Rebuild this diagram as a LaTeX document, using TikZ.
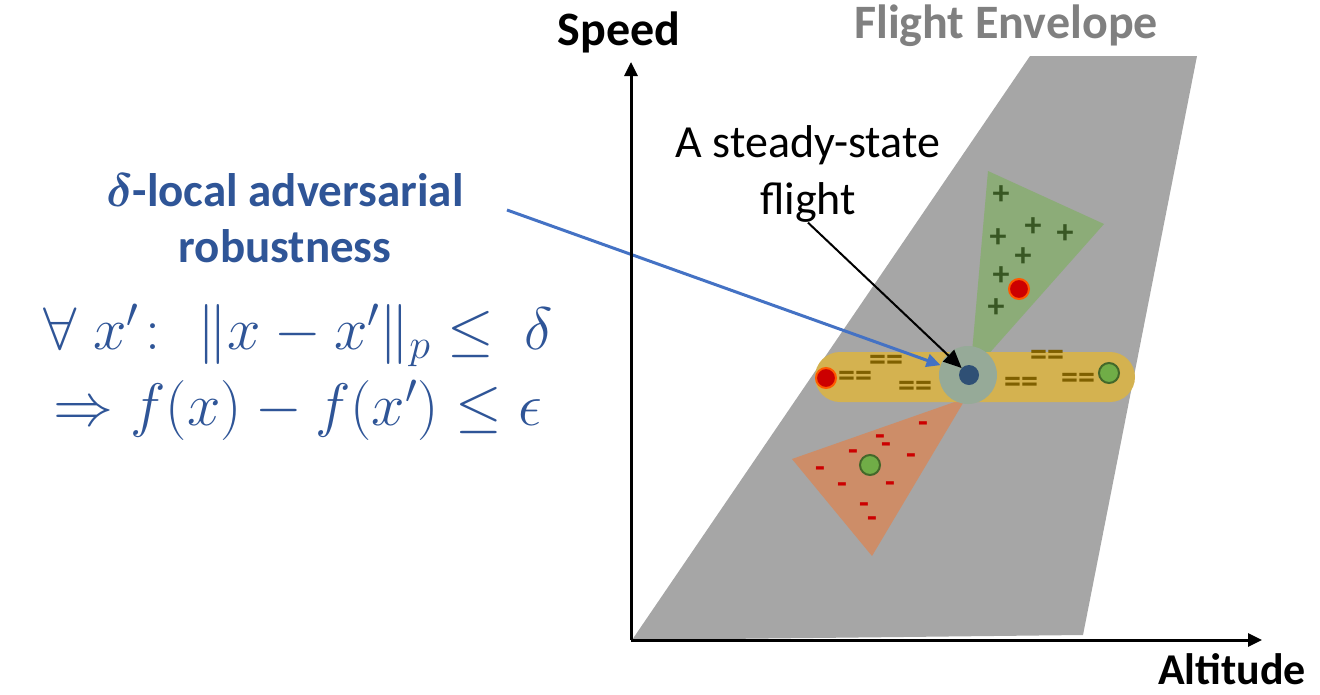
\RequirePackage{fix-cm}
\documentclass[tikz,border=0pt]{standalone}
\usepackage{amsmath,amssymb}
\usepackage{fontspec}
\setmainfont{Carlito}
\usetikzlibrary{arrows.meta}

\definecolor{envgray}{RGB}{166,166,166}
\definecolor{titlegray}{RGB}{128,128,128}
\definecolor{robblue}{RGB}{47,85,151}
\definecolor{arrowblue}{RGB}{68,114,196}
\definecolor{plusfill}{RGB}{140,172,120}
\definecolor{minusfill}{RGB}{205,141,104}
\definecolor{bandgold}{RGB}{212,178,80}
\definecolor{halofill}{RGB}{150,170,152}
\definecolor{coreblue}{RGB}{47,80,117}
\definecolor{eqbrown}{RGB}{127,96,0}
\definecolor{plusgreen}{RGB}{56,87,35}
\definecolor{dotred}{RGB}{204,0,0}
\definecolor{dotgreen}{RGB}{112,173,71}

\begin{document}
\begin{tikzpicture}[x=1pt, y=-1pt,
        axislbl/.style={font=\fontsize{46}{50}\selectfont\bfseries, inner sep=0pt},
        plusmark/.style={text=plusgreen, font=\fontsize{34}{34}\selectfont\bfseries, inner sep=0pt},
        minusmark/.style={text=dotred, font=\fontsize{32}{32}\selectfont\bfseries, inner sep=0pt},
        eqmark/.style={text=eqbrown, font=\fontsize{34}{34}\selectfont\bfseries, inner sep=0pt},
        reddot/.style={circle, fill=dotred, draw=orange!70!red, line width=2pt, minimum size=20pt, inner sep=0pt},
        greendot/.style={circle, fill=dotgreen, draw=plusgreen!80!dotgreen, line width=2pt, minimum size=20pt, inner sep=0pt},
        arrow/.style={-{Triangle[length=14pt, width=13pt]}}
    ]
    \useasboundingbox (0,0) rectangle (1320,694);

    % flight envelope
    \fill[envgray] (632,640) -- (1030,56) -- (1197,56) -- (1083,635) -- cycle;

    % wedges and band
    \fill[plusfill] (988,171) -- (1104,224) -- (970,375) -- cycle;
    \fill[minusfill] (792,459) -- (872,556) -- (966,398) -- cycle;
    \fill[bandgold, rounded corners=25pt] (815,352) rectangle (1135,402);

    \node[circle, fill=halofill, minimum size=58pt, inner sep=0pt] (halo) at (968,375) {};
    \node[circle, fill=coreblue, minimum size=20pt, inner sep=0pt] (ss) at (969,375) {};

    % plus side
    \foreach \px/\py in {1001/195, 1033/227, 1065/234, 998/238, 1023/257, 1001/276, 996/308}
        \node[plusmark] at (\px,\py) {+};
    % minus side
    \foreach \px/\py in {923/427, 880/440, 886/448, 853/455, 911/459, 820/472, 842/488, 890/487, 864/508, 872/522}
        \node[minusmark] at (\px,\py) {-};
    % equal band
    \foreach \px/\py in {886/363, 855/379, 915/389, 1047/358, 1021/385, 1078/381}
        \node[eqmark] at (\px,\py) {==};

    \node[reddot] (redp) at (1019,289) {};
    \node[reddot] (redb) at (826,378) {};
    \node[greendot] (greenb) at (1109,373) {};
    \node[greendot] (greenm) at (870,465) {};

    % labels
    \node[axislbl, font=\fontsize{48}{50}\selectfont\bfseries] (speed) at (619,32) {Speed};
    \node[axislbl, font=\fontsize{44}{50}\selectfont\bfseries] (altitude) at (1232,669) {Altitude};
    \node[axislbl, text=titlegray, font=\fontsize{48}{50}\selectfont\bfseries] (envtitle) at (1006,26) {Flight Envelope};
    \node[font=\fontsize{46}{57}\selectfont, align=center, inner sep=0pt] (steady) at (808,174) {A steady-state\\flight};
    \node[font=\fontsize{47}{56}\selectfont\bfseries, text=robblue, align=center, inner sep=0pt] (robust) at (285,218)
        {$\boldsymbol{\delta}$-local adversarial\\robustness};
    \node[font=\fontsize{60}{76}\selectfont, text=robblue, align=center, inner sep=0pt] (formula) at (298,372)
        {$\forall\; x'\colon\; \|x-x'\|_p \le\ \delta$\\$\Rightarrow f(x)-f(x')\le\epsilon$};

    % pointers
    \coordinate (bstart) at (507,210);
    \draw[arrow, arrowblue, line width=3pt] (bstart) -- (halo);
    \draw[-{Triangle[length=18pt, width=16pt]}, line width=2pt] (steady.south) -- (ss);

    % axes
    \coordinate (origin) at (631,640);
    \coordinate (ytip) at (631,62);
    \coordinate (xtip) at (1262,640);
    \draw[arrow, line width=3pt] (origin) -- (ytip);
    \draw[arrow, line width=3pt] (origin) -- (xtip);
\end{tikzpicture}
\end{document}
